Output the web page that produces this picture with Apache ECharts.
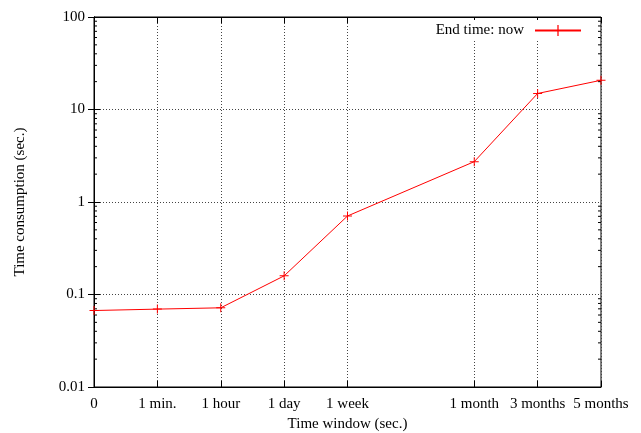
<!DOCTYPE html>
<html><head><meta charset="utf-8">
<script src="https://cdn.jsdelivr.net/npm/echarts@6/dist/echarts.min.js"></script>
<style>html,body{margin:0;padding:0;background:#fff}#c{width:641px;height:433px}</style>
</head><body><div id="c"></div>
<script>
var xPositions = [0, 1, 2, 3, 4, 6, 7, 8];
var xLabels = ['0', '1 min.', '1 hour', '1 day', '1 week', '1 month', '3 months', '5 months'];
var timeValues = [0.0671, 0.0695, 0.0718, 0.159, 0.706, 2.73, 14.9, 20.7];
var minorTickValues = [];
[0.01, 0.1, 1, 10].forEach(function (d) { for (var k = 2; k <= 9; k++) minorTickValues.push(+(d * k).toPrecision(3)); });

var FONT = 'Liberation Serif';
var chart = echarts.init(document.getElementById('c'), null, { renderer: 'canvas' });
var plus = 'path://M4,0h1v9h-1z M0,4h9v1h-9z';
var tickStyle = { inside: true, length: 6, lineStyle: { color: '#000', width: 1 } };
var xAxisBase = {
  type: 'value', min: 0, max: 8,
  axisLine: { show: true, onZero: false, lineStyle: { color: '#000', width: 1 } },
};
chart.setOption({
  animation: false,
  backgroundColor: '#fff',
  grid: { left: 94, right: 40, top: 17, bottom: 46, show: true, borderColor: '#000', borderWidth: 1,
    backgroundColor: 'transparent', containLabel: false, outerBoundsMode: 'none' },
  legend: {
    right: 55, top: 20, align: 'right', itemWidth: 46, itemHeight: 14,
    backgroundColor: '#fff', padding: [3, 4],
    textStyle: { fontFamily: FONT, fontSize: 15, color: '#000', padding: [0, 6, 0, 0] },
    data: ['End time: now']
  },
  xAxis: [
    Object.assign({}, xAxisBase, {
      position: 'bottom',
      name: 'Time window (sec.)', nameLocation: 'middle', nameGap: 30,
      nameTextStyle: { fontFamily: FONT, fontSize: 15, color: '#000' },
      axisTick: Object.assign({ customValues: xPositions }, tickStyle),
      axisLabel: {
        customValues: xPositions, margin: 10, fontFamily: FONT, fontSize: 15, color: '#000',
        formatter: function (v) { var i = xPositions.indexOf(v); return i >= 0 ? xLabels[i] : ''; }
      },
      splitLine: { show: true, lineStyle: { color: '#444', type: [1, 2], width: 1 } }
    }),
    Object.assign({}, xAxisBase, {
      position: 'top',
      axisTick: Object.assign({ customValues: xPositions }, tickStyle),
      axisLabel: { show: false, customValues: xPositions },
      splitLine: { show: false }
    })
  ],
  yAxis: [
    {
      type: 'log', logBase: 10, min: 0.01, max: 100, position: 'left',
      name: 'Time consumption (sec.)', nameLocation: 'middle', nameGap: 66,
      nameTextStyle: { fontFamily: FONT, fontSize: 15, color: '#000' },
      axisLine: { show: true, lineStyle: { color: '#000', width: 1 } },
      axisTick: tickStyle,
      axisLabel: { margin: 9, fontFamily: FONT, fontSize: 15, color: '#000',
        formatter: function (v) { return String(+v.toPrecision(3)); } },
      splitLine: { show: true, lineStyle: { color: '#444', type: [1, 2], width: 1 } }
    },
    {
      type: 'log', logBase: 10, min: 0.01, max: 100, position: 'right',
      axisLine: { show: true, lineStyle: { color: '#000', width: 1 } },
      axisTick: tickStyle,
      axisLabel: { show: false },
      splitLine: { show: false }
    }
  ],
  series: [
    {
      name: 'End time: now', type: 'line',
      data: xPositions.map(function (x, i) { return [x, timeValues[i]]; }),
      symbol: plus, symbolSize: 9, showSymbol: true,
      lineStyle: { color: '#ff0000', width: 1 },
      itemStyle: { color: '#ff0000' },
      clip: false
    },
    {
      type: 'custom', silent: true, legendHoverLink: false,
      data: minorTickValues.map(function (v) { return [0, v]; }),
      renderItem: function (params, api) {
        var cs = params.coordSys;
        var y = api.coord([0, api.value(1)])[1];
        var L = 3;
        return {
          type: 'group',
          children: [
            { type: 'line', shape: { x1: cs.x, y1: y, x2: cs.x + L, y2: y }, style: { stroke: '#000', lineWidth: 1 } },
            { type: 'line', shape: { x1: cs.x + cs.width, y1: y, x2: cs.x + cs.width - L, y2: y }, style: { stroke: '#000', lineWidth: 1 } }
          ]
        };
      }
    }
  ]
});
</script></body></html>
